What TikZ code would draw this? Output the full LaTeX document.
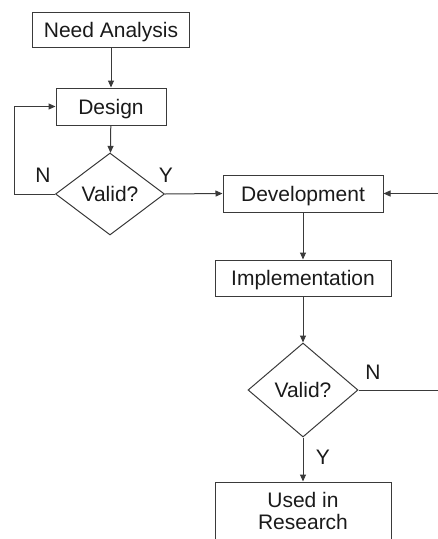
\documentclass[tikz,border=0pt]{standalone}
\usepackage{fontspec}
\setmainfont{Liberation Sans}
\usetikzlibrary{shapes.geometric,arrows.meta}
\definecolor{linec}{HTML}{3A3A3A}
\definecolor{txt}{HTML}{1A1A1A}
\begin{document}
\begin{tikzpicture}[x=1pt,y=-1pt,
  lab/.style={font=\fontsize{21}{22.5}\selectfont, text=txt},
  shapebase/.style={lab, draw=linec, line width=1pt, inner sep=0pt},
  box/.style={shapebase, rectangle, text height=15pt, text depth=0pt},
  mbox/.style={shapebase, rectangle, align=center},
  dia/.style={shapebase, diamond, text height=15pt, text depth=0pt},
  arr/.style={draw=linec, line width=1pt, -{Triangle[length=7pt,width=6pt]}},
  lbl/.style={lab, inner sep=0pt, text height=15pt, text depth=0pt}]
\path[use as bounding box] (0,0) rectangle (438,539);
\clip (0,0) rectangle (438,539);
\node[box, minimum width=157pt, minimum height=35pt] (need) at (111,29.5) {Need Analysis};
\node[box, minimum width=110pt, minimum height=37pt] (design) at (111,106.5) {Design};
\node[dia, minimum width=109pt, minimum height=82pt] (v1) at (110,194) {Valid?};
\node[box, minimum width=160pt, minimum height=37pt] (dev) at (303,193.5) {Development};
\node[box, minimum width=176pt, minimum height=36pt] (impl) at (303,278) {Implementation};
\node[dia, minimum width=110pt, minimum height=94pt] (v2) at (303,390) {Valid?};
\node[mbox, minimum width=176pt, minimum height=58pt] (used) at (303,511) {Used in\\Research};
\coordinate (loopx) at (14,194);
\coordinate (rightx) at (450,390);
\draw[arr] (need) -- (design);
\draw[arr] (design) -- (v1);
\draw[arr] (v1.west) -- (loopx) |- (design.west);
\draw[arr] (v1.east) -- (dev.west);
\draw[arr] (dev) -- (impl);
\draw[arr] (impl) -- (v2);
\draw[arr] (v2) -- (used);
\draw[arr] (v2.east) -- (rightx) |- (dev.east);
\node[lbl] (n1) at (43,175) {N};
\node[lbl] (y1) at (166,175) {Y};
\node[lbl] (n2) at (373,372) {N};
\node[lbl] (y2) at (323,457) {Y};
\end{tikzpicture}
\end{document}
